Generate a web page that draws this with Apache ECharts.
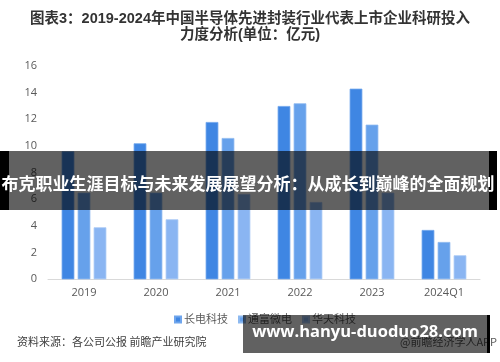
<!DOCTYPE html>
<html>
<head>
<meta charset="utf-8">
<script src="https://cdn.jsdelivr.net/npm/echarts@6/dist/echarts.min.js"></script>
<style>
html,body{margin:0;padding:0;background:#fff;}
#main{width:500px;height:362px;}
</style>
</head>
<body>
<div id="main"></div>
<script>
var categories = ['2019', '2020', '2021', '2022', '2023', '2024Q1'];
var seriesNames = ['长电科技', '通富微电', '华天科技'];
var changdian = [9.6, 10.2, 11.8, 13.0, 14.3, 3.7];
var tongfu = [6.5, 6.5, 10.6, 13.2, 11.6, 2.8];
var huatian = [3.9, 4.5, 6.4, 5.8, 6.5, 1.8];
var yTicks = [0, 2, 4, 6, 8, 10, 12, 14, 16];

var colors = ['#3F86E3', '#66A1EB', '#8AB5F2'];
var borders = ['#6FA5EC', '#8DB9F0', '#A9C9F5'];
var cjk = "'Liberation Sans','Noto Sans CJK SC',sans-serif";
var lab = "'Open Sans','Noto Sans CJK SC',sans-serif";

var chart = echarts.init(document.getElementById('main'), null, {renderer: 'canvas'});
var dataSets = [changdian, tongfu, huatian];
var series = dataSets.map(function (d, i) {
  return {
    name: seriesNames[i],
    type: 'bar',
    data: d,
    barWidth: 12.7,
    barGap: '26%',
    itemStyle: {color: colors[i], borderColor: borders[i], borderWidth: 0.8}
  };
});

var titleStyle = {fontFamily: cjk, fontSize: 14.5, fontWeight: 'bold', color: '#333'};

chart.setOption({
  animation: false,
  backgroundColor: '#fff',
  title: [
    {text: '图表3：2019-2024年中国半导体先进封装行业代表上市企业科研投入', left: 'center', top: 8, padding: 4, textStyle: titleStyle},
    {text: '力度分析(单位：亿元)', left: 'center', top: 24, padding: 4, textStyle: titleStyle}
  ],
  legend: {
    data: seriesNames,
    left: 169,
    top: 309,
    icon: 'rect',
    itemWidth: 6,
    itemHeight: 6,
    itemGap: 10,
    textStyle: {fontFamily: cjk, fontSize: 11, color: '#595959', padding: [0, 0, 0, -2]}
  },
  grid: {left: 48, right: 20, top: 66, bottom: 82.7, containLabel: false},
  xAxis: {
    type: 'category',
    data: categories,
    axisLine: {lineStyle: {color: '#D9D9D9', width: 1}},
    axisTick: {show: false},
    axisLabel: {fontFamily: lab, fontSize: 11, color: '#595959', margin: 8}
  },
  yAxis: {
    type: 'value',
    min: yTicks[0],
    max: yTicks[yTicks.length - 1],
    interval: 2,
    axisLine: {show: false},
    axisTick: {show: false},
    splitLine: {show: false},
    axisLabel: {fontFamily: lab, fontSize: 11, color: '#595959', margin: 11}
  },
  series: series,
  graphic: [
    {type: 'text', left: 17, top: 336, z: 50,
      style: {text: '资料来源：各公司公报 前瞻产业研究院', font: "11px 'Noto Sans CJK SC',sans-serif", fill: '#404040'}},
    {type: 'text', right: 3, top: 336, z: 50,
      style: {text: '@前瞻经济学人APP', font: "11px 'Noto Sans CJK SC',sans-serif", fill: '#595959'}},
    {type: 'rect', shape: {x: 0, y: 151, width: 9, height: 59}, z: 100, style: {fill: '#000'}},
    {type: 'rect', shape: {x: 489, y: 151, width: 8, height: 59}, z: 100, style: {fill: '#000'}},
    {type: 'rect', shape: {x: 9, y: 151, width: 480, height: 59}, z: 100, style: {fill: 'rgba(0,0,0,0.62)'}},
    {type: 'text', x: 248, y: 184, z: 101,
      style: {text: '布克职业生涯目标与未来发展展望分析：从成长到巅峰的全面规划', font: "bold 17px 'Noto Sans CJK SC',sans-serif", fill: '#fff', textAlign: 'center', textVerticalAlign: 'middle'}},
    {type: 'rect', shape: {x: 243, y: 315, width: 244, height: 38}, z: 100, style: {fill: 'rgba(0,0,0,0.62)'}},
    {type: 'rect', shape: {x: 487, y: 315, width: 3, height: 38}, z: 100, style: {fill: '#000'}},
    {type: 'text', x: 365, y: 332, z: 101,
      style: {text: 'www.hanyu-duoduo28.com', font: "bold 16.5px 'Open Sans',sans-serif", fill: '#fff', textAlign: 'center', textVerticalAlign: 'middle'}}
  ]
});
</script>
</body>
</html>
